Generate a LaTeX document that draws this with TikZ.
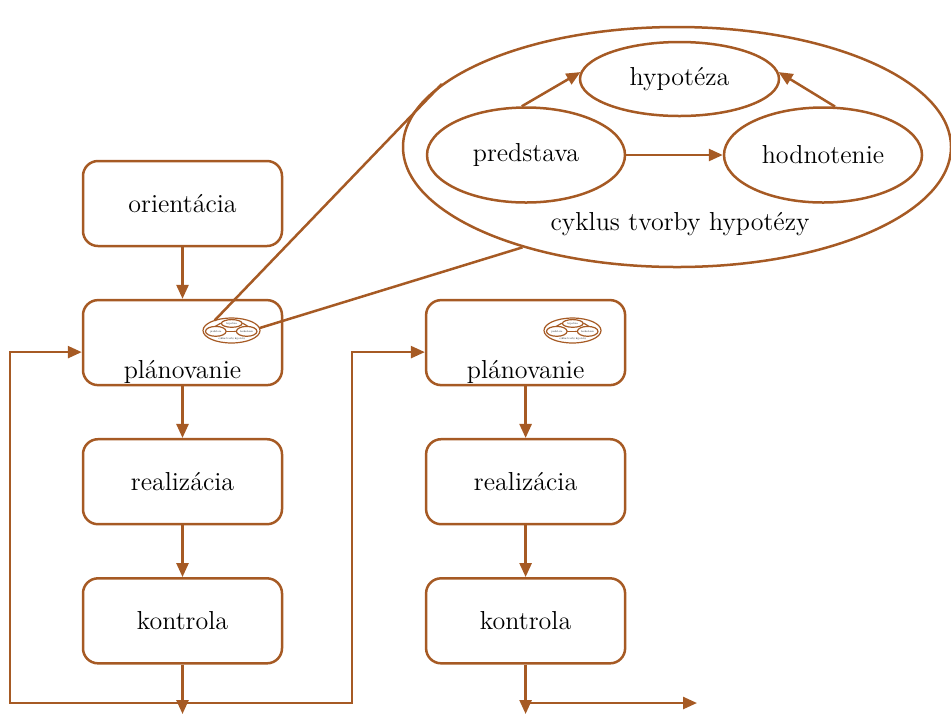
\documentclass[tikz,border=0pt]{standalone}
\usepackage{tikz}
\usetikzlibrary{arrows.meta, shapes.geometric, positioning}
\definecolor{hneda}{HTML}{A65A24}
\tikzset{
  krok/.style={draw, rounded corners=7.5pt, minimum width=99.5pt, minimum height=42.5pt},
  ovalik/.style={draw, ellipse, inner sep=0pt},
  cyklus/.pic={
    \node[ovalik, minimum width=274pt, minimum height=120pt] (-obal) at (0,0) {};
    \node[ovalik, minimum width=99.5pt, minimum height=37pt] (-hyp) at (2.5,68) {hypotéza};
    \node[ovalik, minimum width=99pt, minimum height=47.5pt] (-pred) at (-151,-8) {predstava};
    \node[ovalik, minimum width=99pt, minimum height=47.5pt] (-hodn) at (146,-8) {hodnotenie};
    \node (-nazov) at (3,-77) {cyklus tvorby hypotézy};
    \draw[->] (-pred.95) -- (-hyp.176);
    \draw[->] (-hodn.76) -- (-hyp.4);
    \draw[->] (-pred) -- (-hodn);
  }
}

\begin{document}
\begin{tikzpicture}[x=0.5pt, y=0.5pt, line width=1.25pt, color=hneda,
    every node/.append style={text=black}, node distance=25.8pt,
    >={Triangle[length=7pt,width=6pt]}, font=\fontsize{13}{15}\selectfont]
\useasboundingbox (0,0) rectangle (951,-714);
% lavy stlpec
\node[krok] (orient) at (182.5,-203.5) {orientácia};
\node[krok, below=of orient] (plan1) {};
\node[anchor=base] (plan1txt) at ([yshift=4pt]plan1.south) {plánovanie};
\node[krok, below=of plan1] (real1) {realizácia};
\node[krok, below=of real1] (kont1) {kontrola};
% pravy stlpec
\node[krok, right=70.8pt of plan1] (plan2) {};
\node[anchor=base] (plan2txt) at ([yshift=4pt]plan2.south) {plánovanie};
\node[krok, below=of plan2] (real2) {realizácia};
\node[krok, below=of real2] (kont2) {kontrola};
% cyklus a ikony
\pic (velky) at (677,-147) {cyklus};
\pic[scale=0.104, transform shape, line width=0.6pt,
     >={Triangle[length=0.8pt,width=0.7pt]}] (ikona1) at (231.5,-330.5) {cyklus};
\pic[scale=0.104, transform shape, line width=0.6pt,
     >={Triangle[length=0.8pt,width=0.7pt]}] (ikona2) at (572.5,-330.5) {cyklus};
\draw (ikona1-obal.149) -- (velky-obal.165);
\draw (ikona1-obal.5) -- (velky-obal.213);
% spoje
\coordinate (sL) at (10,-703);
\coordinate (sR) at (352,-703);
\coordinate (dno) at (0,-714);
\coordinate (vystup) at (697,-703);
\draw[->] (orient) -- (plan1);
\draw[->] (plan1) -- (real1);
\draw[->] (real1) -- (kont1);
\draw[->] (plan2) -- (real2);
\draw[->] (real2) -- (kont2);
\draw[->] (kont1) -- (kont1 |- dno);
\draw[->] (kont2) -- (kont2 |- dno);
\draw[<->] ([yshift=-4.75pt]plan1.west) -| (sL) -- (sR) |- ([yshift=-4.75pt]plan2.west);
\draw[->] (kont2 |- sL) -- (vystup);
\end{tikzpicture}
\end{document}
